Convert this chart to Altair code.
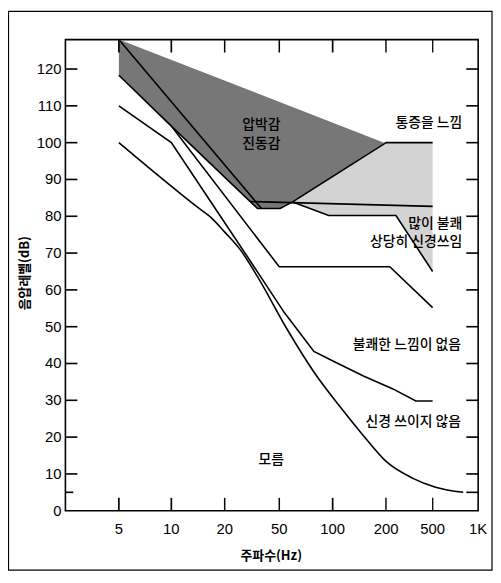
import altair as alt
import pandas as pd

# ---- axes -------------------------------------------------------------
x_ticks = [5, 10, 20, 50, 100, 200, 500, 1000]
x_tick_labels = ["5", "10", "20", "50", "100", "200", "500", "1K"]
x_inner_ticks = [5, 10, 20, 50, 100, 200, 500]
y_ticks = [0, 10, 20, 30, 40, 50, 60, 70, 80, 90, 100, 110, 120]
y_left_ticks = [10, 20, 30, 40, 50, 60, 70, 80, 90, 100, 110, 120]
y_right_ticks = [5, 10, 20, 30, 40, 50, 60, 70, 80, 90, 100, 110, 120]
y_minor = [5]
x_title = "주파수(Hz)"
y_title = "음압레벨(dB)"
# the printed frequency axis is equally spaced per tick (not a true log axis)
x_domain = [2.5, 5, 10, 20, 50, 100, 200, 500, 1000]
x_range = [0, 54, 107, 161, 216, 270, 324, 371, 417]
y_domain = [0, 128]
# inner ends of the inward tick marks, in data units
x_left_in, x_minor_in, x_right_in = 2.92, 2.77, 835
y_top_in, y_bottom_in = 124.5, 3.5
half_db, half_f = 0.22, 1.011   # half thickness of a tick mark

# ---- curves (Hz, dB) ---------------------------------------------------
A_f = [5, 8.4, 14.1, 16.7, 20, 26.1, 34.7, 55.4, 78.4, 109, 149, 200, 339, 523, 797]
A_db = [100, 91.1, 82.4, 79.7, 75.7, 70.8, 63.6, 49.3, 37.7, 28.5, 20.4, 13.4, 8.8, 6.4, 5.0]

B_f = [5, 10, 16.5, 29.3, 53.3, 78.4, 101, 149, 229, 359, 500]
B_db = [110, 100, 84.3, 69.0, 53.9, 43.3, 40.6, 36.6, 33.1, 29.8, 29.8]

C_f = [5, 10, 50, 215, 500]
C_db = [118.3, 104.5, 66.3, 66.3, 55.2]

dark_f = [5, 195, 59.5, 50.6, 34.7, 10, 5, 5]
dark_db = [128, 100, 83.9, 82.1, 82.1, 104.5, 118.3, 128]

light_f = [59.5, 200, 500, 500, 243, 95, 59.5]
light_db = [83.9, 100, 100, 65, 80.2, 80.2, 83.9]

dark_low_f = [10, 34.7, 50.6, 59.5]
dark_low_db = [104.5, 82.1, 82.1, 83.9]

inner_f = [5, 37.1]
inner_db = [128, 82.1]

mid_f = [30.9, 500]
mid_db = [84.0, 82.7]

light_top_f = [59.5, 200, 500]
light_top_db = [83.9, 100, 100]

light_low_f = [59.5, 95, 243, 500]
light_low_db = [83.9, 80.2, 80.2, 65]

# ---- labels -------------------------------------------------------------
right_labels = ["통증을 느낌", "많이 불쾌", "상당히 신경쓰임", "불쾌한 느낌이 없음", "신경 쓰이지 않음"]
right_f = [785, 785, 785, 770, 770]
right_db = [105.3, 78.0, 72.9, 45.1, 24.2]

center_labels = ["압박감", "진동감", "모름"]
center_f = [37.1, 37.1, 43.7]
center_db = [104.9, 99.6, 13.9]


def poly(f, db):
    return pd.DataFrame({"f": f, "db": db, "i": list(range(len(f)))})


# tick-mark table (thin rectangles) built from the tick lists
rows = []
for v in y_left_ticks:
    rows.append((x_domain[0], x_left_in, v - half_db, v + half_db))
for v in y_minor:
    rows.append((x_domain[0], x_minor_in, v - half_db, v + half_db))
for v in y_right_ticks:
    rows.append((x_right_in, x_domain[-1], v - half_db, v + half_db))
for v in x_inner_ticks:
    rows.append((v / half_f, v * half_f, y_top_in, y_domain[1]))
    rows.append((v / half_f, v * half_f, y_domain[0], y_bottom_in))
ticks_df = pd.DataFrame(rows, columns=["f0", "f1", "d0", "d1"])

xs = alt.Scale(type="log", domain=x_domain, range=x_range, nice=False)
ys = alt.Scale(domain=y_domain, nice=False, zero=False)

KFONT = "Noto Sans CJK KR"
NFONT = "Liberation Sans"


def shape(df, fill):
    return alt.Chart(df).mark_line(fill=fill, stroke=None, strokeWidth=0).encode(
        x=alt.X("f:Q", scale=xs, axis=None),
        y=alt.Y("db:Q", scale=ys, axis=None),
        order="i:Q")


def line(df, interp="linear"):
    return alt.Chart(df).mark_line(color="black", strokeWidth=1.6, interpolate=interp).encode(
        x=alt.X("f:Q", scale=xs, axis=None),
        y=alt.Y("db:Q", scale=ys, axis=None),
        order="i:Q")


light = shape(poly(light_f, light_db), "#d3d3d3")
dark = shape(poly(dark_f, dark_db), "#777777")

lA = line(poly(A_f, A_db), "monotone")
lB = line(poly(B_f, B_db))
lC = line(poly(C_f, C_db))
l_dlow = line(poly(dark_low_f, dark_low_db))
l_inner = line(poly(inner_f, inner_db))
l_mid = line(poly(mid_f, mid_db))
l_ltop = line(poly(light_top_f, light_top_db))
l_llow = line(poly(light_low_f, light_low_db))

tick_rects = alt.Chart(ticks_df).mark_rect(color="black", opacity=1).encode(
    x=alt.X("f0:Q", scale=xs, axis=None), x2="f1:Q",
    y=alt.Y("d0:Q", scale=ys, axis=None), y2="d1:Q")

# axis tick labels drawn as text through the scales
y_lab = alt.Chart(pd.DataFrame({"db": y_ticks, "t": [str(v) for v in y_ticks]})).mark_text(
    font=NFONT, fontSize=15, align="right", baseline="middle", color="black").encode(
    y=alt.Y("db:Q", scale=ys, axis=None), x=alt.value(-4), text="t:N")
x_lab = alt.Chart(pd.DataFrame({"f": x_ticks, "t": x_tick_labels})).mark_text(
    font=NFONT, fontSize=15, align="center", baseline="middle", color="black").encode(
    x=alt.X("f:Q", scale=xs, axis=None), y=alt.value(494), text="t:N")
y_tit = alt.Chart(pd.DataFrame({"t": [y_title]})).mark_text(
    font=KFONT, fontSize=13, fontWeight="bold", angle=270, align="center", baseline="middle",
    color="black").encode(x=alt.value(-41), y=alt.value(236), text="t:N")
x_tit = alt.Chart(pd.DataFrame({"t": [x_title]})).mark_text(
    font=KFONT, fontSize=13, fontWeight="bold", align="center", baseline="middle",
    color="black").encode(x=alt.value(208), y=alt.value(522), text="t:N")

t_right = alt.Chart(pd.DataFrame({"t": right_labels, "f": right_f, "db": right_db})).mark_text(
    font=KFONT, fontSize=14, fontWeight=500, align="right", baseline="middle", color="black").encode(
    x=alt.X("f:Q", scale=xs, axis=None), y=alt.Y("db:Q", scale=ys, axis=None), text="t:N")
t_center = alt.Chart(pd.DataFrame({"t": center_labels, "f": center_f, "db": center_db})).mark_text(
    font=KFONT, fontSize=14, fontWeight=500, align="center", baseline="middle", color="black").encode(
    x=alt.X("f:Q", scale=xs, axis=None), y=alt.Y("db:Q", scale=ys, axis=None), text="t:N")

frame = alt.Chart(pd.DataFrame({"k": [0]})).mark_rect(
    filled=False, stroke="black", strokeWidth=1.2).encode(
    x=alt.value(-57.5), x2=alt.value(431), y=alt.value(-28.5), y2=alt.value(536))

chart = alt.layer(
    light, dark, l_dlow, l_inner, l_mid, l_ltop, l_llow, lA, lB, lC,
    tick_rects, y_lab, x_lab, y_tit, x_tit, t_right, t_center, frame
).properties(
    width=417, height=476,
    padding={"left": 58, "top": 29, "right": 15, "bottom": 62},
    autosize=alt.AutoSizeParams(type="none"),
    background="white",
).configure_view(stroke="black", strokeWidth=1.6)

chart.save("out.html", embed_options={"renderer": "svg", "actions": False})
